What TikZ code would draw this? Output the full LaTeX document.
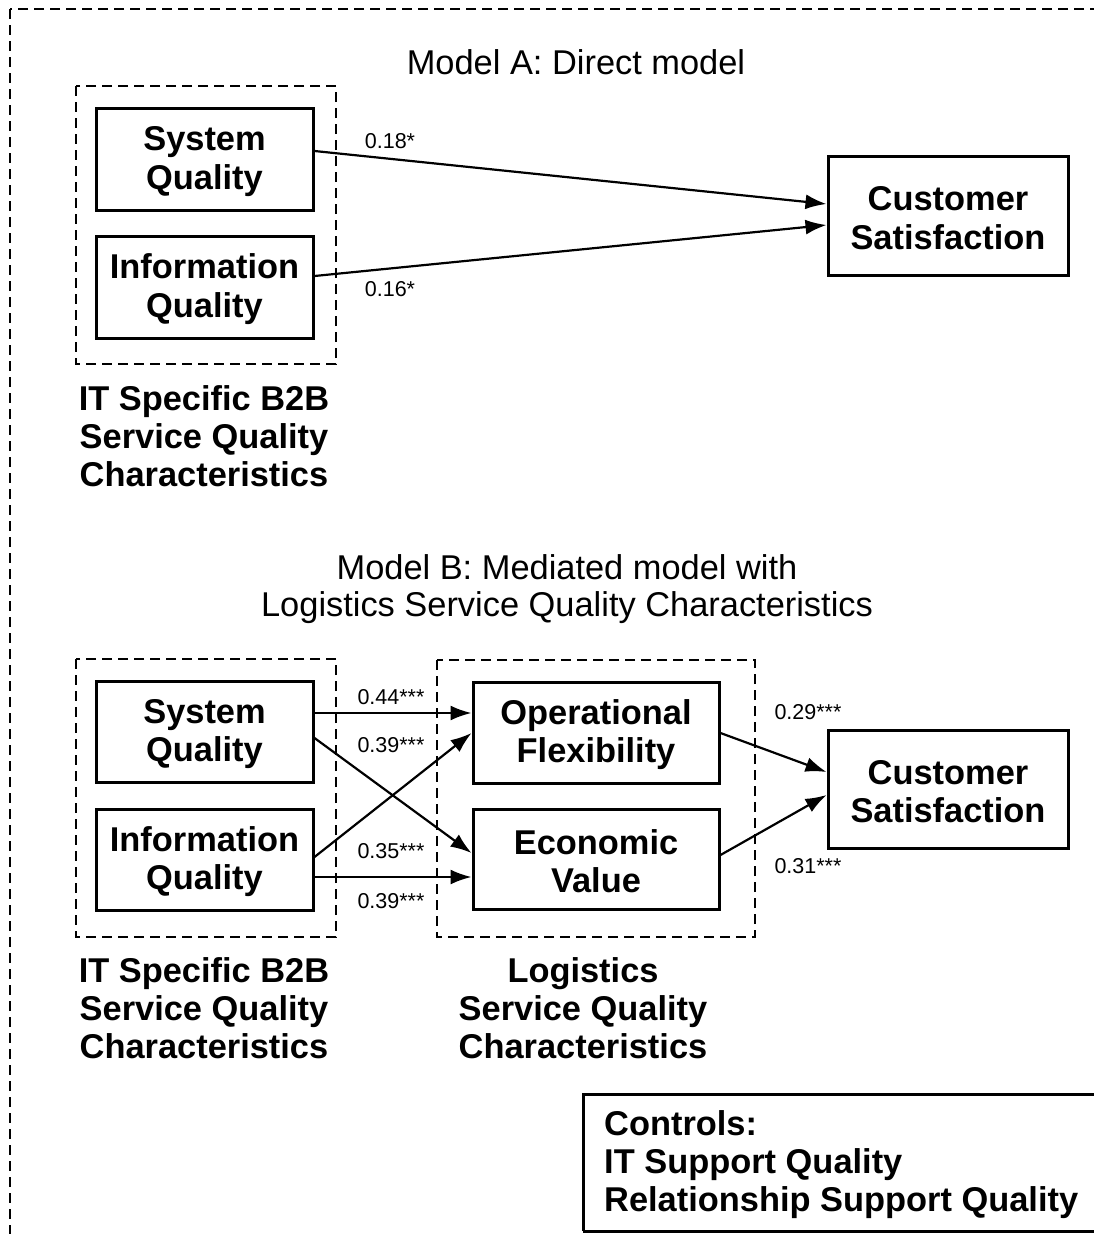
\documentclass[tikz,border=0pt]{standalone}
\usepackage{fontspec}
\setmainfont{Liberation Sans}
\usetikzlibrary{arrows.meta}
\newcommand\boxlift{\rule{0pt}{29pt}}
\tikzset{
  sbox/.style={draw, line width=3pt, align=center, inner sep=0pt,
    font=\fontsize{34.4}{38.5}\selectfont\bfseries},
  grp/.style={draw, line width=2.8pt, dash pattern=on 10pt off 6pt},
  captext/.style={align=center, inner sep=0pt, font=\fontsize{34.4}{38}\selectfont\bfseries},
  ttl/.style={align=center, inner sep=0pt, font=\fontsize{34.4}{37}\selectfont},
  lbl/.style={inner sep=0pt, font=\fontsize{21.5}{24}\selectfont},
  arr/.style={line width=2.2pt, -{Latex[length=21pt,width=15pt]}}
}
\begin{document}
\begin{tikzpicture}[x=1pt,y=-1pt]
\useasboundingbox (0,0) rectangle (1094,1234);
\clip (0,0) rectangle (1094,1234);
\fill[white] (0,0) rectangle (1094,1234);
% outer border (cropped at right and bottom)
\draw[grp] (10,9) rectangle (1120,1260);

% ---------- Model A ----------
\node[ttl] (titleA) at (576,62) {Model A: Direct model};
\draw[grp] (76,86) rectangle (336,364);
\node[sbox, minimum width=217pt, minimum height=102pt] (sqA) at (204.5,159) {\boxlift System\\Quality};
\node[sbox, minimum width=217pt, minimum height=102pt] (iqA) at (204.5,287) {\boxlift Information\\Quality};
\node[sbox, minimum width=240pt, minimum height=119pt] (csA) at (948,215.5) {\boxlift Customer\\Satisfaction};
\node[captext] (capA) at (204,436) {IT Specific B2B\\Service Quality\\Characteristics};

\draw[arr] ([yshift=8pt]sqA.east) -- ([yshift=11.5pt]csA.west);
\draw[arr] ([yshift=11pt]iqA.east) -- ([yshift=-9.5pt]csA.west);
\node[lbl] (lA1) at (390,141) {0.18*};
\node[lbl] (lA2) at (390,289) {0.16*};

% ---------- Model B ----------
\node[ttl] (titleB) at (567,589) {Model B: Mediated model with\\Logistics Service Quality Characteristics};
\draw[grp] (76,659) rectangle (336,937);
\draw[grp] (437,660) rectangle (755,937);
\node[sbox, minimum width=217pt, minimum height=101pt] (sqB) at (204.5,731.5) {\boxlift System\\Quality};
\node[sbox, minimum width=217pt, minimum height=101pt] (iqB) at (204.5,859.5) {\boxlift Information\\Quality};
\node[sbox, minimum width=246pt, minimum height=101pt] (of) at (596,732.5) {\boxlift Operational\\Flexibility};
\node[sbox, minimum width=246pt, minimum height=100pt] (ev) at (596,859) {\boxlift Economic\\Value};
\node[sbox, minimum width=240pt, minimum height=118pt] (csB) at (948,789) {\boxlift Customer\\Satisfaction};
\node[captext] (capB1) at (204,1008) {IT Specific B2B\\Service Quality\\Characteristics};
\node[captext] (capB2) at (583,1008) {Logistics\\Service Quality\\Characteristics};

\draw[arr] ([yshift=18.5pt]sqB.east) -- ([yshift=19.5pt]of.west);
\draw[arr] ([yshift=-6.5pt]sqB.east) -- ([yshift=6pt]ev.west);
\draw[arr] ([yshift=2.5pt]iqB.east) -- ([yshift=-0.5pt]of.west);
\draw[arr] ([yshift=-17.5pt]iqB.east) -- ([yshift=-18pt]ev.west);
\draw[arr] ([yshift=-0.5pt]of.east) -- ([yshift=17pt]csB.west);
\draw[arr] ([yshift=4pt]ev.east) -- ([yshift=-6pt]csB.west);

\node[lbl] (l1) at (391,697) {0.44***};
\node[lbl] (l2) at (391,745) {0.39***};
\node[lbl] (l3) at (391,851) {0.35***};
\node[lbl] (l4) at (391,901) {0.39***};
\node[lbl] (l5) at (808,712) {0.29***};
\node[lbl] (l6) at (808,866) {0.31***};

% ---------- Controls ----------
\draw[line width=3pt] (583,1231) -- (583,1094) -- (1110,1094);
\draw[line width=3pt] (583,1231) -- (1110,1231);
\node[anchor=west, align=left, inner sep=0pt, font=\fontsize{34.4}{38}\selectfont\bfseries] (ctrl) at (604,1165)
  {Controls:\\IT Support Quality\\Relationship Support Quality};
\end{tikzpicture}
\end{document}
